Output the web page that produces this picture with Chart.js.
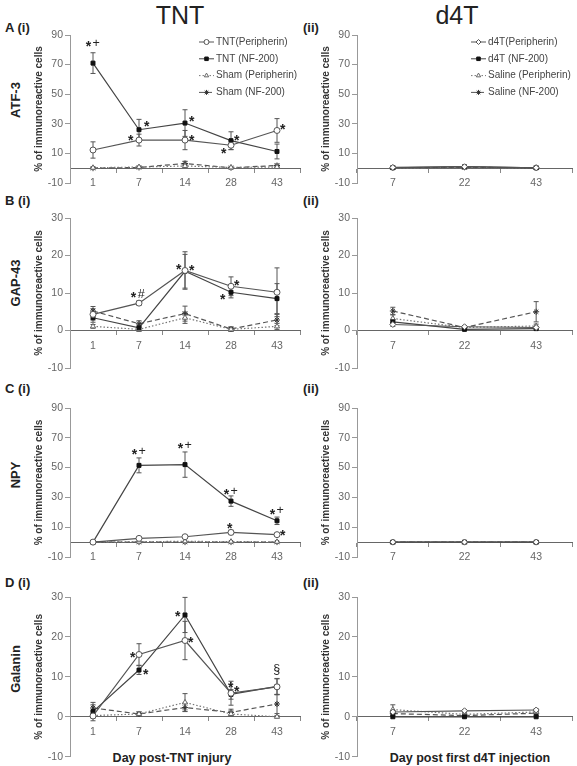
<!DOCTYPE html>
<html>
<head>
<meta charset="utf-8">
<script src="https://cdn.jsdelivr.net/npm/chart.js@4.4.0/dist/chart.umd.min.js"></script>
<style>
  body { margin: 0; background: #fff; width: 577px; height: 766px; position: relative; overflow: hidden;
         font-family: "Liberation Sans", Arial, sans-serif; color: #222; }
  canvas { position: absolute; }
  .t { position: absolute; white-space: nowrap; transform: translate(-50%, -50%); }
  .r { transform: translate(-50%, -50%) rotate(-90deg); font-weight: bold; font-size: 13px; }
  .p { position: absolute; white-space: nowrap; font-weight: bold; font-size: 13px; transform: translateY(-50%); }
  .x { font-weight: bold; font-size: 12.5px; }
</style>
</head>
<body>
<div class="t" style="left:180px;top:15px;font-size:25px">TNT</div>
<div class="t" style="left:457px;top:15px;font-size:25px">d4T</div>

<div class="p" style="left:5px;top:27px">A (i)</div>
<div class="p" style="left:303px;top:27px">(ii)</div>
<div class="p" style="left:5px;top:200px">B (i)</div>
<div class="p" style="left:303px;top:200px">(ii)</div>
<div class="p" style="left:5px;top:388px">C (i)</div>
<div class="p" style="left:303px;top:388px">(ii)</div>
<div class="p" style="left:5px;top:582px">D (i)</div>
<div class="p" style="left:303px;top:582px">(ii)</div>

<div class="t r" style="left:15px;top:100px">ATF-3</div>
<div class="t r" style="left:15px;top:283px">GAP-43</div>
<div class="t r" style="left:15px;top:475px">NPY</div>
<div class="t r" style="left:15px;top:669px">Galanin</div>

<div class="t x" style="left:172px;top:758px">Day post-TNT injury</div>
<div class="t x" style="left:470px;top:758px">Day post first d4T injection</div>

<script>
const FONT = '"Liberation Sans", Arial, sans-serif';

const tntDays = ['1', '7', '14', '28', '43'];
const d4tDays = ['7', '22', '43'];
const ticksTall = [-10, 10, 30, 50, 70, 90];
const ticksShort = [-10, 0, 10, 20, 30];
const tntNames = ['TNT(Peripherin)', 'TNT (NF-200)', 'Sham (Peripherin)', 'Sham (NF-200)'];
const d4tNames = ['d4T(Peripherin)', 'd4T (NF-200)', 'Saline (Peripherin)', 'Saline (NF-200)'];

// ATF-3
const atfTntPeri = [12.3, 19, 19, 15.5, 25.5];
const atfTntPeriErr = [5.5, 4, 6.5, 3, 8];
const atfTntNf = [71, 26, 30.5, 18.6, 11.3];
const atfTntNfErr = [7, 7, 9, 6, 5];
const atfShamPeri = [0.3, 0.8, 1.5, 0.5, 0.8];
const atfShamPeriErr = [0.5, 0.5, 1, 0.5, 0.5];
const atfShamNf = [0, 0.5, 3.2, 0.3, 1.8];
const atfShamNfErr = [0.3, 0.5, 1.5, 0.3, 1];
const atfD4tPeri = [0.5, 1, 0.3];
const atfD4tNf = [0.3, 1, 0.2];
const atfSalPeri = [0.2, 0.4, 0.2];
const atfSalNf = [0.3, 0.6, 0.3];
const atfD4tErr = [0.5, 0.5, 0.4];

// GAP-43
const gapTntPeri = [4.3, 7.3, 16, 11.8, 10.2];
const gapTntPeriErr = [1.5, 0.6, 5, 2.5, 6.5];
const gapTntNf = [3.4, 0.7, 15.8, 10.2, 8.5];
const gapTntNfErr = [1.2, 0.8, 4.5, 1.5, 4];
const gapShamPeri = [1.1, 0.3, 3.4, 0.3, 1.1];
const gapShamPeriErr = [0.5, 0.5, 1.5, 0.5, 0.8];
const gapShamNf = [5.2, 1.8, 4.5, 0.4, 2.8];
const gapShamNfErr = [1.2, 0.8, 2, 0.6, 1.5];
const gapD4tPeri = [1.6, 1.0, 0.8];
const gapD4tNf = [2.3, 0.3, 0.5];
const gapSalPeri = [3.2, 0.8, 1.2];
const gapSalNf = [5.2, 0.8, 5];
const gapSalPeriErr = [1, 0.3, 0.5];
const gapSalNfErr = [1, 0.5, 2.7];

// NPY
const npyTntPeri = [0, 2.5, 3.6, 6.5, 5];
const npyTntPeriErr = [0.3, 0.5, 0.8, 1.5, 1];
const npyTntNf = [0, 51.5, 52, 27.5, 14.3];
const npyTntNfErr = [0.3, 5, 8.5, 3.5, 2.5];
const npyShamPeri = [0, 0.3, 0.5, 0.3, 0.2];
const npyShamNf = [0, 0, 0, 0, 0];
const npyD4t = [0, 0, 0];

// Galanin
const galTntPeri = [0.2, 15.6, 19.1, 5.9, 7.5];
const galTntPeriErr = [0.5, 2.7, 4.8, 3, 2];
const galTntNf = [1.3, 11.7, 25.5, 5.6, 7.6];
const galTntNfErr = [2.3, 1.1, 4.4, 1.2, 2];
const galShamPeri = [0.3, 0.7, 3.6, 0.7, 0];
const galShamPeriErr = [0.5, 0.5, 2.2, 0.5, 0.3];
const galShamNf = [2.2, 0.7, 2.3, 1.1, 3.2];
const galShamNfErr = [0.8, 0.5, 1, 0.8, 2.4];
const galD4tPeri = [1.2, 1.5, 1.7];
const galD4tNf = [0, 0, 0];
const galSalPeri = [1.8, 0.6, 1.2];
const galSalNf = [0.8, 0.3, 0.9];
const galSalPeriErr = [1.2, 0.4, 0.4];

// significance marks: [series, point, text, dx, dy]
const atfMarks = [[1, 0, '*+', 0, -20], [1, 1, '*', 8, -7], [0, 1, '*', -8, -3], [1, 2, '*', 7, -5],
  [0, 2, '*', 7, -3], [1, 3, '*', 6, -4], [0, 3, '*', -7, 5], [0, 4, '*', 6, -4]];
const gapMarks = [[0, 1, '*#', -1, -9], [0, 2, '*', -6, -4], [1, 2, '*', 7, -4],
  [0, 3, '*', 6, -4], [1, 3, '*', -8, 4]];
const npyMarks = [[1, 1, '*+', 0, -14], [1, 2, '*+', 0, -19], [1, 3, '*+', 0, -10], [1, 4, '*+', 0, -10],
  [0, 3, '*', -1, -7], [0, 4, '*', 6, -3]];
const galMarks = [[0, 1, '*', -6, 0], [1, 1, '*', 7, 1], [1, 2, '*', -7, -2], [0, 2, '*', 6, -1],
  [1, 3, '*', 0, -10], [1, 3, '*', 6, -6], [1, 4, '§', 0, -17]];

const errorBars = {
  id: 'errorBars',
  beforeDatasetsDraw(chart) {
    const { ctx, scales: { y } } = chart;
    ctx.save();
    ctx.strokeStyle = '#555';
    ctx.lineWidth = 1;
    chart.data.datasets.forEach((ds, i) => {
      if (!ds.errors) return;
      const meta = chart.getDatasetMeta(i);
      ds.data.forEach((v, j) => {
        const e = ds.errors[j];
        if (!e) return;
        const px = meta.data[j].x;
        const y1 = y.getPixelForValue(v + e), y2 = y.getPixelForValue(v - e);
        ctx.beginPath();
        ctx.moveTo(px, y1); ctx.lineTo(px, y2);
        ctx.moveTo(px - 2.5, y1); ctx.lineTo(px + 2.5, y1);
        ctx.moveTo(px - 2.5, y2); ctx.lineTo(px + 2.5, y2);
        ctx.stroke();
      });
    });
    ctx.restore();
  }
};

const markText = {
  id: 'marks',
  afterDatasetsDraw(chart, args, opts) {
    const ctx = chart.ctx;
    ctx.save();
    ctx.fillStyle = '#222';
    ctx.textAlign = 'center';
    ctx.textBaseline = 'middle';
    (opts.list || []).forEach(([s, j, txt, dx, dy]) => {
      const pt = chart.getDatasetMeta(s).data[j];
      const chars = [...txt];
      const fontFor = c => (c === '*' ? 'bold 14px ' : '12.5px ') + FONT;
      let w = -1;
      chars.forEach(c => { ctx.font = fontFor(c); w += ctx.measureText(c).width + 1.5; });
      let x = pt.x + dx - w / 2;
      chars.forEach(c => {
        ctx.font = fontFor(c);
        const cw = ctx.measureText(c).width;
        ctx.fillText(c, x + cw / 2, pt.y + dy + (c === '*' ? 4 : 0));
        x += cw + 1.5;
      });
    });
    ctx.restore();
  }
};

const boxLegend = {
  id: 'boxLegend',
  afterDraw(chart, args, opts) {
    if (!opts.show) return;
    const { ctx, chartArea } = chart;
    chart.data.datasets.forEach((ds, i) => {
      const y = chartArea.top + 7 + i * 16.8;
      const x = chartArea.right - 101;
      ctx.save();
      ctx.strokeStyle = ds.borderColor;
      ctx.lineWidth = 1;
      ctx.setLineDash(ds.borderDash);
      ctx.beginPath(); ctx.moveTo(x, y); ctx.lineTo(x + 15, y); ctx.stroke();
      ctx.setLineDash([]);
      ctx.fillStyle = ds.pointBackgroundColor;
      ctx.strokeStyle = ds.pointBorderColor;
      if (Chart.helpers && Chart.helpers.drawPoint) {
        Chart.helpers.drawPoint(ctx, { pointStyle: ds.pointStyle, radius: 2.5, borderWidth: 1, rotation: 0 }, x + 7.5, y);
      }
      ctx.fillStyle = '#444';
      ctx.font = '10px ' + FONT;
      ctx.textBaseline = 'middle';
      ctx.fillText(ds.label, x + 17, y);
      ctx.restore();
    });
  }
};

function panel(box, days, yTicks, names, vals, errs, marks, showLegend, periShape) {
  const cv = document.createElement('canvas');
  cv.width = box[2];
  cv.height = box[3];
  cv.style.left = box[0] + 'px';
  cv.style.top = box[1] + 'px';
  document.body.appendChild(cv);
  const shapes = [periShape, 'rect', 'triangle', 'star'];
  const fills = ['#fff', '#111', '#fff', '#333'];
  const edges = ['#555', '#111', '#666', '#333'];
  const lines = ['#555', '#444', '#777', '#555'];
  const dashes = [[], [], [1.5, 2], [5, 3]];
  const datasets = names.map((n, i) => ({
    label: n,
    data: vals[i],
    errors: errs[i],
    borderColor: lines[i],
    borderWidth: 1.2,
    borderDash: dashes[i],
    pointStyle: shapes[i],
    pointRadius: i === 1 ? 2.8 : 3,
    pointBackgroundColor: fills[i],
    pointBorderColor: edges[i],
    pointBorderWidth: 1,
    tension: 0,
    fill: false
  }));
  new Chart(cv, {
    type: 'line',
    data: { labels: days, datasets },
    options: {
      responsive: false,
      animation: false,
      layout: { padding: { top: 10, bottom: box[5], left: 0, right: box[4] } },
      plugins: {
        legend: { display: false },
        tooltip: { enabled: false },
        marks: { list: marks },
        boxLegend: { show: showLegend }
      },
      scales: {
        x: {
          type: 'category',
          position: { y: 0 },
          offset: true,
          grid: { offset: true, drawOnChartArea: false, tickLength: 4, color: '#888' },
          border: { color: '#666', width: 1 },
          ticks: { color: '#666', font: { size: 10.5, family: FONT }, padding: 5, maxRotation: 0 }
        },
        y: {
          min: yTicks[0],
          max: yTicks[yTicks.length - 1],
          afterBuildTicks: s => { s.ticks = yTicks.map(v => ({ value: v })); },
          afterFit: s => { s.width = 42; },
          grid: { drawOnChartArea: false, tickLength: 5, color: '#999' },
          border: { color: '#999' },
          ticks: { color: '#666', font: { size: 10.5, family: FONT }, padding: 2 },
          title: {
            display: true, text: '% of immunoreactive cells', color: '#333',
            font: { size: 10, weight: 'bold', family: FONT }, padding: { top: 5, bottom: 0 }
          }
        }
      }
    },
    plugins: [errorBars, markText, boxLegend]
  });
}

// box: [left, top, width, height, padRight, padBottom]
panel([28, 25, 280, 168, 8, 10], tntDays, ticksTall, tntNames,
  [atfTntPeri, atfTntNf, atfShamPeri, atfShamNf],
  [atfTntPeriErr, atfTntNfErr, atfShamPeriErr, atfShamNfErr], atfMarks, true, 'circle');
panel([315, 25, 262, 168, 2, 10], d4tDays, ticksTall, d4tNames,
  [atfD4tPeri, atfD4tNf, atfSalPeri, atfSalNf],
  [atfD4tErr, atfD4tErr, atfD4tErr, atfD4tErr], [], true, 'rectRot');

panel([28, 208, 280, 170, 8, 10], tntDays, ticksShort, tntNames,
  [gapTntPeri, gapTntNf, gapShamPeri, gapShamNf],
  [gapTntPeriErr, gapTntNfErr, gapShamPeriErr, gapShamNfErr], gapMarks, false, 'circle');
panel([315, 208, 262, 170, 2, 10], d4tDays, ticksShort, d4tNames,
  [gapD4tPeri, gapD4tNf, gapSalPeri, gapSalNf],
  [[0.5, 0.3, 0.3], [0.6, 0.3, 0.3], gapSalPeriErr, gapSalNfErr], [], false, 'rectRot');

panel([28, 398, 280, 169, 8, 10], tntDays, ticksTall, tntNames,
  [npyTntPeri, npyTntNf, npyShamPeri, npyShamNf],
  [npyTntPeriErr, npyTntNfErr, null, null], npyMarks, false, 'circle');
panel([315, 398, 262, 169, 2, 10], d4tDays, ticksTall, d4tNames,
  [npyD4t, npyD4t, npyD4t, npyD4t], [null, null, null, null], [], false, 'rectRot');

panel([28, 587, 280, 178, 8, 8], tntDays, ticksShort, tntNames,
  [galTntPeri, galTntNf, galShamPeri, galShamNf],
  [galTntPeriErr, galTntNfErr, galShamPeriErr, galShamNfErr], galMarks, false, 'circle');
panel([315, 587, 262, 178, 2, 8], d4tDays, ticksShort, d4tNames,
  [galD4tPeri, galD4tNf, galSalPeri, galSalNf],
  [[0.4, 0.3, 0.3], null, galSalPeriErr, [0.4, 0.3, 0.3]], [], false, 'rectRot');
</script>
</body>
</html>
